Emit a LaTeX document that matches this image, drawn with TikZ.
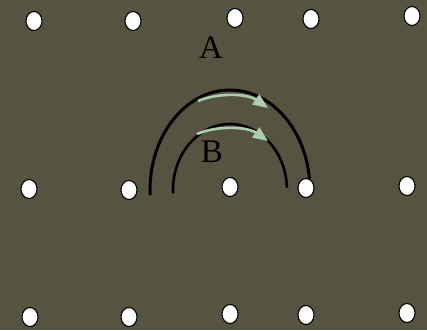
\documentclass[tikz,border=0pt]{standalone}
\usepackage{fontspec}
\setmainfont{Liberation Serif}
\usetikzlibrary{arrows.meta,shapes.geometric}
\definecolor{olivebg}{RGB}{86,83,65}
\definecolor{palegreen}{RGB}{172,204,176}
\tikzset{
  site/.style={ellipse, draw=black, fill=white, line width=1.1pt,
    minimum width=16pt, minimum height=19pt, inner sep=0pt},
  path line/.style={line width=3pt, black},
  hop/.style={-{Triangle[length=15pt, width=12pt]}, line width=2.6pt, palegreen},
  tag/.style={font=\fontsize{33}{33}\selectfont, inner sep=0pt},
}

\begin{document}
\begin{tikzpicture}[x=1pt, y=1pt]

  % Background
  \fill[olivebg] (0,0) rectangle (427,330);
  \useasboundingbox (0,0) rectangle (427,330);

  % Lattice sites (three rows)
  \foreach \x/\y [count=\i] in {34/309,133/309,235/312,311/311,412/314}
    \node[site] (t\i) at (\x,\y) {};
  \foreach \x/\y [count=\i] in {29/141,129/140,230/143,306/142,407/144}
    \node[site] (m\i) at (\x,\y) {};
  \foreach \x/\y [count=\i] in {30/13,129/13,230/16,306/15,407/17}
    \node[site] (b\i) at (\x,\y) {};

  % Outer path A
  \draw[path line] ([shift={(183:80 and 100)}]230,140)
    arc[start angle=183, end angle=6, x radius=80, y radius=100];
  % Inner path B
  \draw[path line, line width=2.6pt] ([shift={(183:57 and 66)}]230,140)
    arc[start angle=183, end angle=2, x radius=57, y radius=66];

  % Hopping arrows
  \draw[hop] (198,229) .. controls (220,238) and (248,236) .. (268,222);
  \draw[hop] (197,196) .. controls (218,205) and (248,203) .. (268,189);

  % Labels
  \node[tag] (labA) at (211,282) {A};
  \node[tag] (labB) at (212,178) {B};

\end{tikzpicture}
\end{document}
